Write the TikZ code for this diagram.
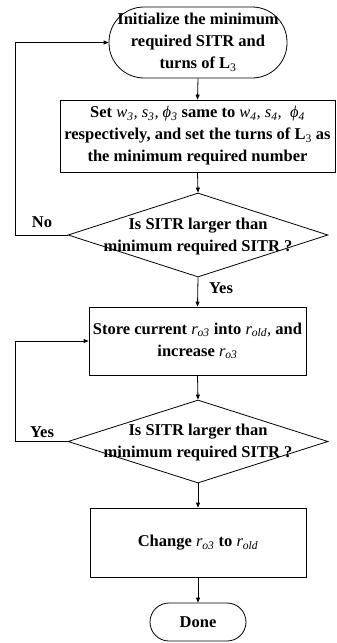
\documentclass[tikz,border=0pt]{standalone}
\usepackage{fontspec}
\setmainfont{Liberation Serif}
\usetikzlibrary{arrows.meta,shapes.geometric}
\newcommand{\myit}[1]{{\mdseries\itshape #1}}
\newcommand{\mysub}[1]{\textsubscript{\mdseries\itshape #1}}
\begin{document}
\begin{tikzpicture}[x=1pt,y=-1pt,
  every node/.style={font=\fontsize{16.5}{22}\selectfont\bfseries, inner sep=0pt},
  term/.style={draw, line width=0.8pt, rectangle, align=center},
  procbox/.style={draw, line width=0.8pt, rectangle, align=center},
  dia/.style={draw, line width=0.8pt, diamond, minimum width=260pt, minimum height=84pt},
  diatext/.style={align=center},
  conn/.style={line width=0.8pt, -{Triangle[length=5pt,width=4pt]}},
  line/.style={line width=0.8pt}]
\useasboundingbox (0,0) rectangle (337,643);
\node[term, rounded corners=35pt, minimum width=178pt, minimum height=71pt] (init) at (198,42.5)
  {Initialize the minimum\\required SITR and\\turns of L\textsubscript{\mdseries 3}};
\node[procbox, minimum width=275pt, minimum height=72pt] (set) at (197.5,136)
  {Set \myit{w}\mysub{3}\myit{,} \myit{s}\mysub{3}\myit{,} \myit{ϕ}\mysub{3} same to \myit{w}\mysub{4}\myit{,} \myit{s}\mysub{4}\myit{,}~ \myit{ϕ}\mysub{4}\\respectively, and set the turns of L\textsubscript{\mdseries 3} as\\the minimum required number};
\node[dia] (d1) at (198,235) {};
\node[diatext] (t1) at (198,237) {Is SITR larger than\\minimum required SITR ?};
\node[procbox, minimum width=217pt, minimum height=68pt] (store) at (197.5,341)
  {Store current \myit{r}\mysub{o3} into \myit{r}\mysub{old}\myit{,} and\\increase \myit{r}\mysub{o3}};
\node[dia, minimum height=83pt] (d2) at (198,441.5) {};
\node[diatext] (t2) at (198,443) {Is SITR larger than\\minimum required SITR ?};
\node[procbox, minimum width=216pt, minimum height=69pt] (chg) at (198,542.5)
  {Change \myit{r}\mysub{o3} to \myit{r}\mysub{old}};
\node[term, rounded corners=19pt, minimum width=96pt, minimum height=38pt] (done) at (198,622) {Done};
\node (no) at (42,222) {No};
\node (yes1) at (221,288) {Yes};
\node (yes2) at (42,432) {Yes};
\coordinate (c1) at (15,235);
\coordinate (c2) at (15,441.5);
\draw[conn] (init.south) -- (set.north);
\draw[conn] (set.south) -- (d1.north);
\draw[conn] (d1.south) -- (store.north);
\draw[conn] (store.south) -- (d2.north);
\draw[conn] (d2.south) -- (chg.north);
\draw[conn] (chg.south) -- (done.north);
\draw[conn] (d1.west) -- (c1) |- (init.west);
\draw[conn] (d2.west) -- (c2) |- (store.west);
\end{tikzpicture}
\end{document}
